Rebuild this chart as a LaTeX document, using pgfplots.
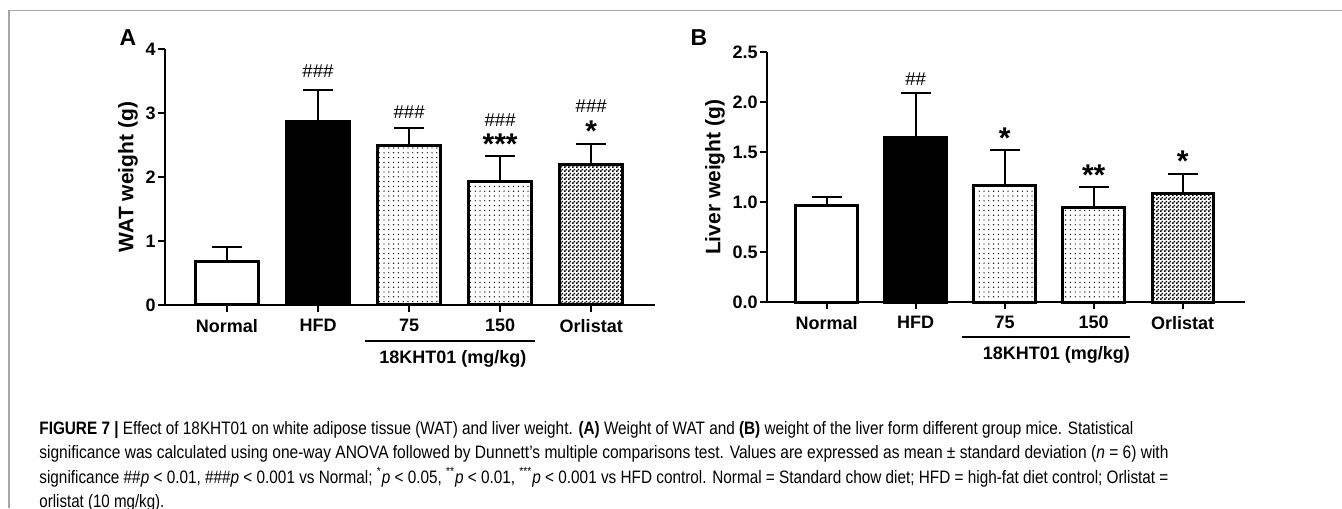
\documentclass[border=0pt]{standalone}
\usepackage{graphicx}
\usepackage{fontspec}
\setmainfont{Liberation Sans}
\newfontfamily\capfont[FakeStretch=0.82]{Liberation Sans}
\usepackage{pgfplots}
\pgfplotsset{compat=1.18}
\usetikzlibrary{patterns,patterns.meta}

\pgfdeclarepatternformonly{checker}{\pgfqpoint{0pt}{0pt}}{\pgfqpoint{2pt}{2pt}}{\pgfqpoint{2pt}{2pt}}{%
  \pgfpathrectangle{\pgfqpoint{0pt}{0pt}}{\pgfqpoint{1pt}{1pt}}%
  \pgfpathrectangle{\pgfqpoint{1pt}{1pt}}{\pgfqpoint{1pt}{1pt}}%
  \pgfusepath{fill}}

\newcommand\tickfont{\bfseries\fontsize{9}{10}\selectfont}
\newcommand\hashfont{\fontsize{9.3}{10}\selectfont}
\newcommand\starfont{\bfseries\fontsize{15}{15}\selectfont}
% each caption line stretched to the width it has in the reference
\newcommand\capline[2]{\resizebox{#1}{\height}{#2}}

\pgfplotsset{
  panel/.style={
    scale only axis, anchor=south west,
    ybar, clip=false,
    axis x line*=bottom, axis y line*=left,
    axis line style={line width=1pt, -},
    tick align=outside, major tick length=3.5pt,
    major tick style={line width=1pt, black},
    xmin=-0.68, xmax=4.70,
    xtick={0,1,2,3,4},
    xticklabels={Normal, HFD, 75, 150, Orlistat},
    tick label style={font=\tickfont},
    yticklabel style={inner sep=1pt},
    /pgf/number format/assume math mode=true,
    ylabel style={font=\bfseries\fontsize{10.5}{11}\selectfont, anchor=center},
  },
  bar/.style={bar shift=0pt, bar width=0.69, draw=black, line width=1.5pt,
    /pgfplots/error bars/y dir=plus, /pgfplots/error bars/y explicit,
    /pgfplots/error bars/error mark=|,
    /pgfplots/error bars/error bar style={line width=1pt, black},
    /pgfplots/error bars/error mark options={line width=1pt, mark size=7.5pt, black}},
}

\begin{document}
\begin{tikzpicture}
\useasboundingbox (0,0) rectangle (671pt,254pt);
\draw[gray!70, line width=0.75pt] (4.5pt,0) -- (4.5pt,248.75pt) -- (671pt,248.75pt);

% panel A: WAT weight
\begin{axis}[panel, at={(82.5pt,101.5pt)}, width=245pt, height=128pt,
  ymin=0, ymax=4, ytick={0,1,2,3,4},
  ylabel={WAT weight (g)},
  ylabel style={at={(axis description cs:-0.0755,0.5)}}]
\addplot[bar, fill=white] coordinates {(0,0.68) +- (0,0.22)};
\addplot[bar, fill=black] coordinates {(1,2.86) +- (0,0.50)};
\addplot[bar, pattern={Dots[distance=2.4pt, radius=0.35pt]}] coordinates {(2,2.49) +- (0,0.28)};
\addplot[bar, pattern={Dots[distance=2.4pt, radius=0.35pt]}] coordinates {(3,1.93) +- (0,0.40)};
\addplot[bar, pattern=checker] coordinates {(4,2.20) +- (0,0.31)};
\node[font=\hashfont] at (axis cs:1,3.66) {\#\#\#};
\node[font=\hashfont] at (axis cs:2,3.02) {\#\#\#};
\node[font=\hashfont] at (axis cs:3,2.89) {\#\#\#};
\node[font=\starfont, anchor=base, yshift=-7.5pt] at (axis cs:3,2.58) {***};
\node[font=\hashfont] at (axis cs:4,3.11) {\#\#\#};
\node[font=\starfont, anchor=base, yshift=-7.5pt] at (axis cs:4,2.79) {*};
\draw[line width=1pt] (axis cs:1.516,-0.558) -- (axis cs:3.385,-0.558);
\node[font=\tickfont] at (axis cs:2.48,-0.844) {18KHT01 (mg/kg)};
\end{axis}
\node[font=\bfseries\fontsize{11.5}{12}\selectfont] at (64pt,235pt) {A};

% panel B: liver weight
\begin{axis}[panel, at={(383.5pt,102.85pt)}, width=239pt, height=125pt,
  ymin=0, ymax=2.5, ytick={0,0.5,1,1.5,2,2.5},
  yticklabel style={/pgf/number format/fixed, /pgf/number format/fixed zerofill, /pgf/number format/precision=1},
  xmin=-0.67,
  ylabel={Liver weight (g)},
  ylabel style={at={(axis description cs:-0.109,0.5)}}]
\addplot[bar, fill=white] coordinates {(0,0.97) +- (0,0.08)};
\addplot[bar, fill=black] coordinates {(1,1.65) +- (0,0.44)};
\addplot[bar, pattern={Dots[distance=2.4pt, radius=0.35pt]}] coordinates {(2,1.17) +- (0,0.35)};
\addplot[bar, pattern={Dots[distance=2.4pt, radius=0.35pt]}] coordinates {(3,0.95) +- (0,0.20)};
\addplot[bar, pattern=checker] coordinates {(4,1.09) +- (0,0.19)};
\node[font=\hashfont] at (axis cs:1,2.23) {\#\#};
\node[font=\starfont, anchor=base, yshift=-7.5pt] at (axis cs:2,1.69) {*};
\node[font=\starfont, anchor=base, yshift=-7.5pt] at (axis cs:3,1.32) {**};
\node[font=\starfont, anchor=base, yshift=-7.5pt] at (axis cs:4,1.46) {*};
\draw[line width=1pt] (axis cs:1.517,-0.35) -- (axis cs:3.41,-0.35);
\node[font=\tickfont] at (axis cs:2.58,-0.527) {18KHT01 (mg/kg)};
\end{axis}
\node[font=\bfseries\fontsize{11.5}{12}\selectfont] at (349.5pt,235pt) {B};

% caption
\begin{scope}[every node/.style={anchor=base west, inner sep=0pt, font=\capfont\fontsize{9}{10}\selectfont}]
\node at (19.5pt,36.75pt) {\capline{547pt}{\textbf{FIGURE 7 |} Effect of 18KHT01 on white adipose tissue (WAT) and liver weight. \textbf{(A)} Weight of WAT and \textbf{(B)} weight of the liver form different group mice. Statistical}};
\node at (19.5pt,24.5pt) {\capline{564.5pt}{significance was calculated using one-way ANOVA followed by Dunnett’s multiple comparisons test. Values are expressed as mean ± standard deviation (\textit{n} = 6) with}};
\node at (19.5pt,12.25pt) {\capline{564.5pt}{significance \#\#\textit{p} < 0.01, \#\#\#\textit{p} < 0.001 vs Normal; \textsuperscript{*}\textit{p} < 0.05, \textsuperscript{**}\textit{p} < 0.01, \textsuperscript{***}\textit{p} < 0.001 vs HFD control. Normal = Standard chow diet; HFD = high-fat diet control; Orlistat =}};
\node at (19.5pt,0.5pt) {\capline{62.5pt}{orlistat (10 mg/kg).}};
\end{scope}
\end{tikzpicture}
\end{document}
